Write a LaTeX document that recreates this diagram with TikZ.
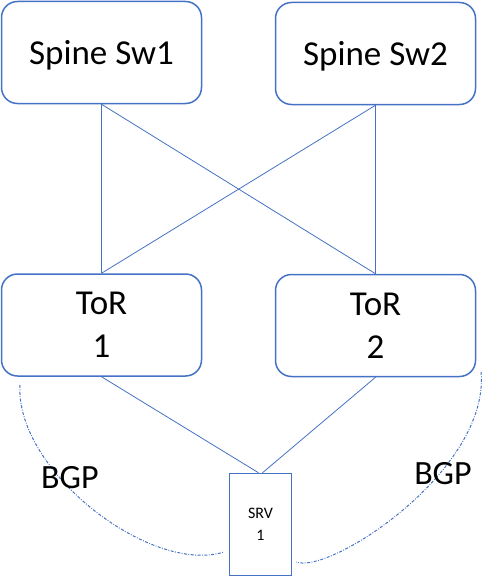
\documentclass[tikz,border=0pt]{standalone}
\usepackage{fontspec}
\setmainfont{Carlito}
\usetikzlibrary{positioning}
\definecolor{cbox}{RGB}{68,114,196}

\begin{document}
\begin{tikzpicture}[x=1pt, y=-1pt,
  swbox/.style={draw=cbox, line width=1.5pt, rounded corners=16pt,
    minimum width=200pt, minimum height=102pt,
    font=\fontsize{35}{43}\selectfont},
  srvbox/.style={draw=cbox, line width=1.5pt, minimum width=62pt,
    minimum height=102pt, align=center, font=\fontsize{16}{22}\selectfont},
  link/.style={cbox, line width=0.8pt},
  bgp/.style={cbox, line width=1pt,
    dash pattern=on 3pt off 1.5pt on 0.8pt off 1.5pt}]
\useasboundingbox (0,0) rectangle (498,578);
\node[swbox, text depth=0pt] (sp1) at (101.5,52.5) {Spine Sw1};
\node[swbox, text depth=0pt] (sp2) at (375.5,53.5) {Spine Sw2};
\node[swbox, align=center] (tor1) at (101.5,325) {ToR\\1};
\node[swbox, align=center] (tor2) at (375.5,325.5) {ToR\\2};
\node[srvbox] (srv) at (260.5,524.5) {SRV\\1};
\draw[link] (sp1.south) -- (tor1.north);
\draw[link] (sp1.south) -- (tor2.north);
\draw[link] (sp2.south) -- (tor1.north);
\draw[link] (sp2.south) -- (tor2.north);
\draw[link] (tor1.south) -- ([xshift=-2pt]srv.north);
\draw[link] (tor2.south) -- ([xshift=2pt]srv.north);
% BGP sessions
\draw[bgp] (20,385) .. controls (15,470) and (150,575) .. (224,552);
\draw[bgp] (481,372) .. controls (490,470) and (330,575) .. (296,562);
\node[font=\fontsize{34}{40}\selectfont] (bgp1) at (70,478) {BGP};
\node[font=\fontsize{34}{40}\selectfont] (bgp2) at (443,473.5) {BGP};
\end{tikzpicture}
\end{document}
